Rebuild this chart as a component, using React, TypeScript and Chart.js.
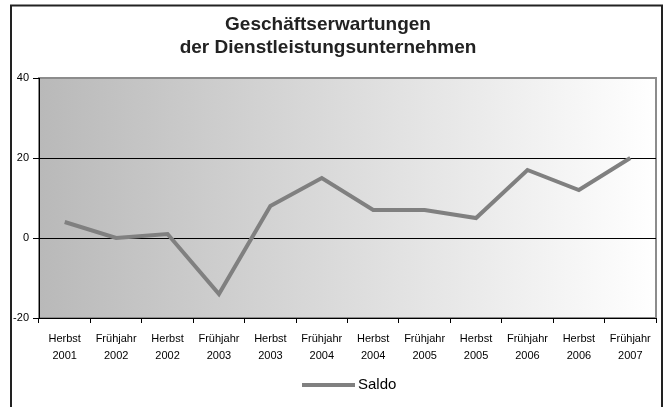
import React, { useEffect, useRef } from "react";
import { Chart, registerables } from "chart.js";

Chart.register(...registerables);

const titleLines = ["Geschäftserwartungen", "der Dienstleistungsunternehmen"];
const seasons = ["Herbst", "Frühjahr", "Herbst", "Frühjahr", "Herbst", "Frühjahr", "Herbst", "Frühjahr", "Herbst", "Frühjahr", "Herbst", "Frühjahr"];
const years = ["2001", "2002", "2002", "2003", "2003", "2004", "2004", "2005", "2005", "2006", "2006", "2007"];
const saldo = [4, 0, 1, -14, 8, 15, 7, 7, 5, 17, 12, 20];
const seriesName = "Saldo";
const yMin = -20;
const yMax = 40;
const yStep = 20;

const FONT = "'Liberation Sans', Arial, sans-serif";

const framePlugin = {
  id: "frame",
  beforeDraw(chart: any) {
    const ctx = chart.ctx;
    const { left, top, right, bottom } = chart.chartArea;
    ctx.save();
    ctx.fillStyle = "#ffffff";
    ctx.fillRect(0, 0, chart.width, chart.height);
    // outer frame
    ctx.strokeStyle = "#222";
    ctx.lineWidth = 2;
    ctx.beginPath();
    ctx.moveTo(11, 420);
    ctx.lineTo(11, 5.5);
    ctx.lineTo(662, 5.5);
    ctx.lineTo(662, 420);
    ctx.stroke();
    // plot gradient
    const g = ctx.createLinearGradient(left, 0, right, 0);
    g.addColorStop(0, "#b9b9b9");
    g.addColorStop(1, "#ffffff");
    ctx.fillStyle = g;
    ctx.fillRect(left, top, right - left, bottom - top);
    ctx.strokeStyle = "#8c8c8c";
    ctx.lineWidth = 2;
    ctx.strokeRect(left, top, right - left, bottom - top);
    ctx.restore();
  },
  afterDraw(chart: any) {
    // legend: line sample + series name
    const ctx = chart.ctx;
    const ds = chart.data.datasets[0];
    const y = 385;
    const x0 = 302;
    const lineW = 53;
    ctx.save();
    ctx.strokeStyle = ds.borderColor;
    ctx.lineWidth = ds.borderWidth;
    ctx.beginPath();
    ctx.moveTo(x0, y);
    ctx.lineTo(x0 + lineW, y);
    ctx.stroke();
    ctx.fillStyle = "#000";
    ctx.font = `15px ${FONT}`;
    ctx.textBaseline = "middle";
    ctx.textAlign = "left";
    ctx.fillText(ds.label, x0 + lineW + 3, y);
    ctx.restore();
  },
};

export default function App() {
  const ref = useRef<HTMLCanvasElement | null>(null);
  useEffect(() => {
    if (!ref.current) return;
    const labels = seasons.map((s, i) => [s, years[i]]);
    const chart = new Chart(ref.current, {
      type: "line",
      data: {
        labels,
        datasets: [
          {
            label: seriesName,
            data: saldo,
            borderColor: "#808080",
            backgroundColor: "#808080",
            borderWidth: 4,
            pointRadius: 0,
            tension: 0,
            fill: false,
          },
        ],
      },
      options: {
        responsive: false,
        animation: false,
        layout: { padding: { left: 0, right: 13, top: 0, bottom: 39 } },
        plugins: {
          title: {
            display: true,
            text: titleLines,
            color: "#222",
            font: { family: FONT, size: 19, weight: "bold", lineHeight: 23 / 19 },
            padding: { top: 13, bottom: 19 },
          },
          legend: { display: false },
          tooltip: { enabled: false },
        },
        scales: {
          x: {
            offset: true,
            grid: {
              offset: true,
              drawOnChartArea: false,
              drawTicks: true,
              tickLength: 5,
              tickColor: "#000",
            },
            border: { display: true, color: "#000", width: 1 },
            ticks: {
              color: "#000",
              font: { family: FONT, size: 11, lineHeight: 17 / 11 },
              padding: 7,
              maxRotation: 0,
              autoSkip: false,
            },
            afterFit(scale: any) {
              scale.height = 50;
            },
          },
          y: {
            min: yMin,
            max: yMax,
            ticks: {
              stepSize: yStep,
              color: "#000",
              font: { family: FONT, size: 11 },
              padding: 4,
            },
            grid: {
              color: (c: any) =>
                c.tick && (c.tick.value === 0 || c.tick.value === 20) ? "#000" : "rgba(0,0,0,0)",
              tickColor: "#000",
              tickLength: 6,
              lineWidth: 1,
            },
            border: { display: true, color: "#000", width: 1 },
            afterFit(scale: any) {
              scale.width = 39;
            },
          },
        },
      },
      plugins: [framePlugin],
    });
    return () => chart.destroy();
  }, []);
  return (
    <div style={{ position: "fixed", left: 0, top: 0, width: 669, height: 407, background: "#fff" }}>
      <canvas ref={ref} width={669} height={407} style={{ display: "block" }} />
    </div>
  );
}
